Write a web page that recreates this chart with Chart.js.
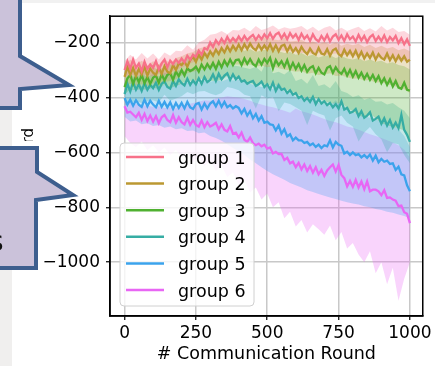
<!DOCTYPE html>
<html>
<head>
<meta charset="utf-8">
<script src="https://cdn.jsdelivr.net/npm/chart.js@4.4.1/dist/chart.umd.min.js"></script>
<style>
	html, body { margin: 0; padding: 0; background: #fff; }
	canvas { display: block; }
</style>
</head>
<body>
<canvas id="chart" width="435" height="366"></canvas>
<script>
// Rounds of the mean curves (every 10) and of the bands (every 20)
var rounds = Array.from({length: 101}, (_, i) => i * 10);
var bandRounds = Array.from({length: 51}, (_, i) => i * 20);

var xTicks = [0, 250, 500, 750, 1000];
var yTicks = [-1000, -800, -600, -400, -200];

var groupNames = ['group 1', 'group 2', 'group 3', 'group 4', 'group 5', 'group 6'];
var groupColors = ['#f77189', '#bb9832', '#50b131', '#36ada4', '#3ba3ec', '#e866f4'];

// Mean reward per group
var g1 = [
	-300, -268, -296, -262, -292, -276, -304, -270, -296, -280,
	-292, -268, -298, -276, -262, -290, -266, -278, -262, -274,
	-258, -272, -248, -262, -244, -252, -230, -244, -220, -226,
	-200, -216, -192, -206, -186, -202, -180, -198, -184, -196,
	-178, -194, -176, -192, -180, -172, -190, -174, -188, -170,
	-184, -166, -186, -170, -164, -184, -168, -188, -166, -182,
	-170, -190, -168, -186, -174, -194, -170, -188, -196, -176,
	-192, -172, -196, -178, -170, -190, -174, -194, -170, -188,
	-178, -196, -172, -192, -176, -198, -180, -172, -194, -178,
	-194, -174, -198, -180, -192, -176, -202, -184, -206, -188,
	-212];
var g2 = [
	-325, -288, -318, -292, -322, -296, -316, -288, -320, -294,
	-310, -318, -290, -314, -286, -306, -312, -282, -300, -276,
	-282, -270, -288, -264, -252, -270, -244, -262, -238, -254,
	-232, -248, -226, -242, -220, -236, -214, -232, -212, -228,
	-208, -228, -206, -224, -204, -220, -228, -208, -226, -210,
	-226, -206, -230, -210, -232, -212, -208, -232, -212, -234,
	-220, -238, -216, -232, -242, -222, -238, -244, -220, -240,
	-244, -224, -248, -228, -222, -242, -250, -226, -246, -230,
	-250, -230, -254, -234, -258, -240, -256, -236, -262, -242,
	-256, -262, -240, -264, -246, -268, -248, -266, -250, -270,
	-262];
var g3 = [
	-362, -330, -318, -350, -322, -344, -318, -348, -326, -350,
	-328, -320, -346, -316, -338, -318, -312, -336, -306, -322,
	-300, -320, -294, -304, -298, -288, -306, -280, -298, -278,
	-294, -274, -296, -270, -290, -266, -284, -262, -282, -264,
	-262, -282, -258, -278, -260, -278, -286, -262, -280, -260,
	-274, -256, -294, -264, -282, -268, -288, -264, -296, -274,
	-296, -278, -302, -282, -306, -292, -286, -312, -292, -310,
	-316, -292, -286, -310, -290, -306, -314, -296, -320, -300,
	-324, -304, -328, -310, -332, -314, -336, -318, -340, -322,
	-348, -330, -354, -334, -360, -340, -364, -368, -346, -372,
	-375];
var g4 = [
	-388, -350, -378, -344, -372, -352, -376, -348, -372, -354,
	-366, -346, -372, -350, -342, -362, -368, -340, -358, -334,
	-348, -356, -332, -354, -338, -352, -330, -350, -326, -344,
	-336, -316, -340, -314, -334, -320, -312, -336, -316, -334,
	-324, -342, -338, -350, -344, -340, -358, -352, -342, -362,
	-352, -370, -346, -376, -356, -372, -368, -384, -374, -390,
	-384, -402, -396, -412, -402, -416, -398, -424, -406, -422,
	-414, -428, -420, -436, -424, -440, -414, -444, -438, -456,
	-452, -442, -468, -450, -474, -466, -454, -484, -478, -470,
	-496, -476, -502, -482, -510, -492, -512, -464, -518, -536,
	-562];
var g5 = [
	-402, -426, -408, -430, -410, -426, -434, -408, -432, -412,
	-426, -436, -412, -434, -416, -436, -418, -442, -420, -438,
	-420, -440, -416, -436, -442, -424, -420, -444, -422, -440,
	-422, -414, -432, -412, -434, -416, -436, -428, -440, -432,
	-438, -458, -442, -466, -450, -476, -460, -484, -468, -492,
	-488, -498, -500, -520, -502, -532, -516, -542, -534, -556,
	-546, -556, -556, -566, -562, -574, -568, -580, -572, -584,
	-574, -578, -556, -582, -562, -572, -576, -604, -598, -610,
	-600, -610, -606, -618, -610, -620, -608, -630, -612, -636,
	-624, -634, -630, -642, -640, -664, -652, -680, -684, -720,
	-742];
var g6 = [
	-432, -455, -452, -462, -472, -456, -482, -460, -486, -466,
	-488, -468, -494, -472, -464, -482, -490, -464, -492, -472,
	-490, -498, -474, -500, -482, -500, -506, -484, -508, -490,
	-506, -500, -492, -516, -498, -518, -524, -504, -532, -528,
	-546, -528, -554, -562, -546, -566, -574, -568, -578, -572,
	-586, -582, -604, -598, -606, -606, -628, -620, -640, -634,
	-654, -638, -662, -644, -668, -650, -674, -654, -680, -664,
	-686, -666, -654, -644, -670, -646, -682, -694, -724, -704,
	-726, -700, -728, -706, -734, -706, -742, -736, -736, -742,
	-756, -738, -766, -764, -772, -776, -796, -794, -818, -824,
	-858];

// Band bounds per group (every 20 rounds)
var g1Hi = [
	-268, -244, -262, -238, -258, -240, -262, -236, -248, -230,
	-232, -210, -226, -200, -190, -172, -168, -158, -170, -154,
	-156, -146, -160, -140, -154, -148, -138, -152, -144, -150,
	-146, -140, -154, -142, -158, -146, -140, -156, -146, -158,
	-150, -142, -158, -148, -160, -140, -156, -146, -162, -158,
	-172];
var g1Lo = [
	-328, -316, -320, -322, -316, -324, -314, -318, -310, -300,
	-292, -282, -272, -262, -250, -240, -234, -228, -226, -224,
	-220, -222, -218, -224, -220, -228, -222, -226, -230, -232,
	-234, -238, -236, -242, -238, -246, -242, -240, -246, -244,
	-248, -246, -252, -250, -256, -254, -260, -258, -264, -266,
	-272];
var g2Hi = [
	-290, -262, -282, -266, -284, -268, -280, -260, -276, -256,
	-250, -240, -234, -222, -216, -206, -200, -194, -192, -186,
	-184, -190, -180, -188, -184, -178, -188, -192, -182, -196,
	-194, -190, -202, -196, -206, -198, -208, -200, -212, -204,
	-210, -204, -216, -208, -220, -212, -222, -216, -228, -222,
	-232];
var g2Lo = [
	-362, -350, -356, -352, -358, -348, -354, -344, -340, -334,
	-320, -312, -306, -300, -296, -292, -288, -284, -282, -280,
	-280, -284, -280, -288, -284, -290, -286, -294, -298, -302,
	-306, -304, -314, -310, -318, -316, -312, -322, -320, -326,
	-332, -330, -338, -336, -346, -344, -352, -356, -364, -370,
	-384];
var g3Hi = [
	-318, -288, -300, -292, -306, -290, -300, -288, -280, -272,
	-268, -258, -254, -246, -240, -236, -232, -226, -228, -224,
	-222, -230, -224, -234, -228, -226, -220, -232, -238, -234,
	-244, -238, -250, -244, -254, -248, -246, -256, -250, -258,
	-262, -256, -268, -262, -270, -266, -276, -272, -282, -286,
	-298];
var g3Lo = [
	-388, -372, -372, -370, -372, -364, -370, -352, -366, -358,
	-350, -338, -340, -334, -330, -338, -340, -336, -322, -324,
	-330, -340, -346, -356, -348, -356, -352, -360, -370, -376,
	-386, -396, -402, -400, -406, -414, -420, -424, -418, -438,
	-450, -466, -472, -458, -476, -494, -500, -508, -512, -520,
	-560];
var g4Hi = [
	-346, -316, -330, -312, -326, -314, -324, -310, -318, -302,
	-300, -308, -290, -304, -294, -286, -280, -290, -276, -284,
	-286, -292, -296, -288, -306, -264, -312, -306, -316, -300,
	-340, -332, -350, -318, -358, -352, -366, -340, -376, -384,
	-398, -392, -408, -402, -416, -414, -426, -420, -436, -448,
	-476];
var g4Lo = [
	-430, -418, -414, -420, -414, -410, -418, -390, -412, -404,
	-396, -380, -388, -378, -376, -386, -392, -384, -362, -366,
	-374, -390, -396, -440, -392, -404, -398, -450, -418, -424,
	-436, -448, -500, -448, -458, -466, -520, -476, -466, -492,
	-506, -560, -528, -508, -534, -552, -600, -566, -570, -610,
	-640];
var g5Hi = [
	-372, -366, -370, -358, -368, -356, -364, -352, -360, -348,
	-350, -346, -342, -348, -340, -344, -336, -342, -334, -338,
	-336, -344, -350, -356, -362, -360, -370, -344, -380, -386,
	-398, -404, -410, -396, -420, -424, -430, -410, -436, -446,
	-456, -460, -468, -474, -480, -488, -494, -504, -516, -540,
	-580];
var g5Lo = [
	-470, -488, -484, -498, -494, -504, -500, -510, -506, -516,
	-512, -522, -520, -530, -528, -540, -548, -558, -570, -584,
	-596, -610, -626, -640, -654, -668, -680, -690, -700, -712,
	-720, -728, -738, -744, -752, -758, -764, -770, -776, -782,
	-786, -790, -796, -800, -806, -810, -816, -820, -826, -832,
	-840];
var g6Hi = [
	-410, -420, -424, -428, -430, -434, -432, -438, -436, -440,
	-430, -426, -420, -416, -410, -412, -404, -400, -396, -398,
	-400, -406, -412, -420, -426, -432, -436, -442, -448, -456,
	-440, -450, -456, -462, -470, -478, -486, -490, -498, -506,
	-510, -518, -526, -534, -540, -548, -556, -564, -574, -590,
	-620];
var g6Lo = [
	-540, -566, -580, -560, -592, -574, -600, -582, -610, -590,
	-620, -600, -636, -612, -650, -630, -668, -648, -690, -672,
	-720, -700, -746, -728, -772, -750, -800, -782, -840, -816,
	-870, -846, -892, -862, -880, -900, -866, -920, -890, -950,
	-930, -972, -1000, -960, -1040, -1000, -1080, -1020, -1140, -1060,
	-1000];

var means = [g1, g2, g3, g4, g5, g6];
var bandsHi = [g1Hi, g2Hi, g3Hi, g4Hi, g5Hi, g6Hi];
var bandsLo = [g1Lo, g2Lo, g3Lo, g4Lo, g5Lo, g6Lo];

function toXY(xs, ys) {
	return ys.map((y, i) => ({x: xs[i], y: y}));
}

function withAlpha(hex, a) {
	let r = parseInt(hex.substr(1, 2), 16), g = parseInt(hex.substr(3, 2), 16), b = parseInt(hex.substr(5, 2), 16);
	return 'rgba(' + r + ',' + g + ',' + b + ',' + a + ')';
}

var datasets = [];
// Mean lines first so they stay on top
groupNames.forEach((name, i) => {
	datasets.push({
		label: name,
		data: toXY(rounds, means[i]),
		borderColor: groupColors[i],
		backgroundColor: groupColors[i],
		borderWidth: 2.3,
		pointRadius: 0,
		tension: 0,
		fill: false,
		order: 0
	});
});
// Then the shaded bands (lower bound, upper bound filled to it)
groupNames.forEach((name, i) => {
	datasets.push({
		label: '',
		isBand: true,
		data: toXY(bandRounds, bandsLo[i]),
		borderWidth: 0,
		pointRadius: 0,
		tension: 0,
		fill: false,
		order: 1
	});
	datasets.push({
		label: '',
		isBand: true,
		data: toXY(bandRounds, bandsHi[i]),
		borderWidth: 0,
		pointRadius: 0,
		tension: 0,
		fill: '-1',
		backgroundColor: withAlpha(groupColors[i], 0.28),
		order: 1
	});
});

var font = 'DejaVu Sans';

// Frame, in-axes legend, y title and the slide shapes on top
var decorations = {
	id: 'decorations',
	beforeDraw: function(chart) {
		let ctx = chart.ctx;
		ctx.save();
		ctx.fillStyle = '#ffffff';
		ctx.fillRect(0, 0, chart.width, chart.height);
		ctx.fillStyle = '#f1f1f1';
		ctx.fillRect(0, 0, chart.width, 3);
		ctx.fillStyle = '#f0efee';
		ctx.fillRect(0, 106, 12, chart.height - 106);
		ctx.restore();
	},
	afterDraw: function(chart) {
		let ctx = chart.ctx, area = chart.chartArea;
		ctx.save();
		// axes frame
		ctx.strokeStyle = '#000';
		ctx.lineWidth = 1.5;
		ctx.strokeRect(area.left, area.top, area.right - area.left, area.bottom - area.top);

		// legend
		let bx = area.left + 10, bw = 134, bh = 163, by = area.bottom - 10 - bh;
		ctx.beginPath();
		ctx.roundRect(bx, by, bw, bh, 4);
		ctx.fillStyle = 'rgba(255,255,255,0.8)';
		ctx.fill();
		ctx.strokeStyle = '#d0d0d0';
		ctx.lineWidth = 1;
		ctx.stroke();
		ctx.font = '17.5px "' + font + '"';
		ctx.textBaseline = 'alphabetic';
		ctx.textAlign = 'left';
		chart.data.datasets.forEach((ds, i) => {
			if(ds.isBand)
				return;
			let y = by + 14 + i * 26.6;
			ctx.strokeStyle = ds.borderColor;
			ctx.lineWidth = 2.5;
			ctx.beginPath();
			ctx.moveTo(bx + 6, y);
			ctx.lineTo(bx + 44, y);
			ctx.stroke();
			ctx.fillStyle = '#000';
			ctx.fillText(ds.label, bx + 58, y + 6.5);
		});

		// y axis title (mostly hidden behind the shapes)
		ctx.save();
		ctx.beginPath();
		ctx.rect(0, 0, chart.width, 141);
		ctx.clip();
		ctx.translate(33, 128);
		ctx.rotate(-Math.PI / 2);
		ctx.font = '15px "' + font + '"';
		ctx.fillStyle = '#000';
		ctx.textAlign = 'right';
		ctx.fillText('Reward', 0, 0);
		ctx.restore();

		// slide callouts
		ctx.fillStyle = '#cbc2da';
		ctx.strokeStyle = '#3d5e8e';
		ctx.lineWidth = 4;
		ctx.lineJoin = 'miter';
		let shapes = [
			[[-5, -5], [20, -5], [20, 56], [69, 85], [20, 89], [20, 108], [-5, 108]],
			[[-5, 148], [37, 148], [37, 172], [73, 195], [36, 200], [36, 268], [-5, 268]]
		];
		shapes.forEach(pts => {
			ctx.beginPath();
			pts.forEach((p, k) => k ? ctx.lineTo(p[0], p[1]) : ctx.moveTo(p[0], p[1]));
			ctx.closePath();
			ctx.fill();
			ctx.stroke();
		});
		ctx.fillStyle = '#111';
		ctx.font = '28px "' + font + '"';
		ctx.textAlign = 'left';
		ctx.fillText('s', -11, 251);
		ctx.restore();
	}
};

new Chart(document.getElementById('chart'), {
	type: 'line',
	data: { datasets: datasets },
	options: {
		responsive: false,
		animation: false,
		devicePixelRatio: 1,
		layout: { padding: { left: 0, right: 11, top: 10, bottom: 0 } },
		scales: {
			x: {
				type: 'linear',
				min: -51,
				max: 1045,
				afterBuildTicks: (s) => { s.ticks = xTicks.map(v => ({value: v})); },
				afterFit: (s) => { s.height = 50; },
				grid: { color: '#c8c8c8', lineWidth: 1.5, tickLength: 4, tickColor: '#000', tickWidth: 1.2 },
				border: { color: '#000', width: 1.5 },
				ticks: { color: '#000', font: { family: font, size: 17 }, padding: 3, maxRotation: 0, callback: (v) => String(v) },
				title: { display: true, text: '# Communication Round', color: '#000', font: { family: font, size: 17.5 }, padding: { top: 0, bottom: 1 } }
			},
			y: {
				type: 'linear',
				min: -1196,
				max: -104,
				afterBuildTicks: (s) => { s.ticks = yTicks.map(v => ({value: v})); },
				afterFit: (s) => { s.width = 110; },
				grid: { color: '#c8c8c8', lineWidth: 1.5, tickLength: 4, tickColor: '#000', tickWidth: 1.2 },
				border: { color: '#000', width: 1.5 },
				ticks: {
					color: '#000',
					font: { family: font, size: 17 },
					padding: 6,
					callback: (v) => String(v).replace('-', '\u2212')
				}
			}
		},
		plugins: {
			legend: { display: false },
			tooltip: { enabled: false }
		}
	},
	plugins: [decorations]
});
</script>
</body>
</html>
